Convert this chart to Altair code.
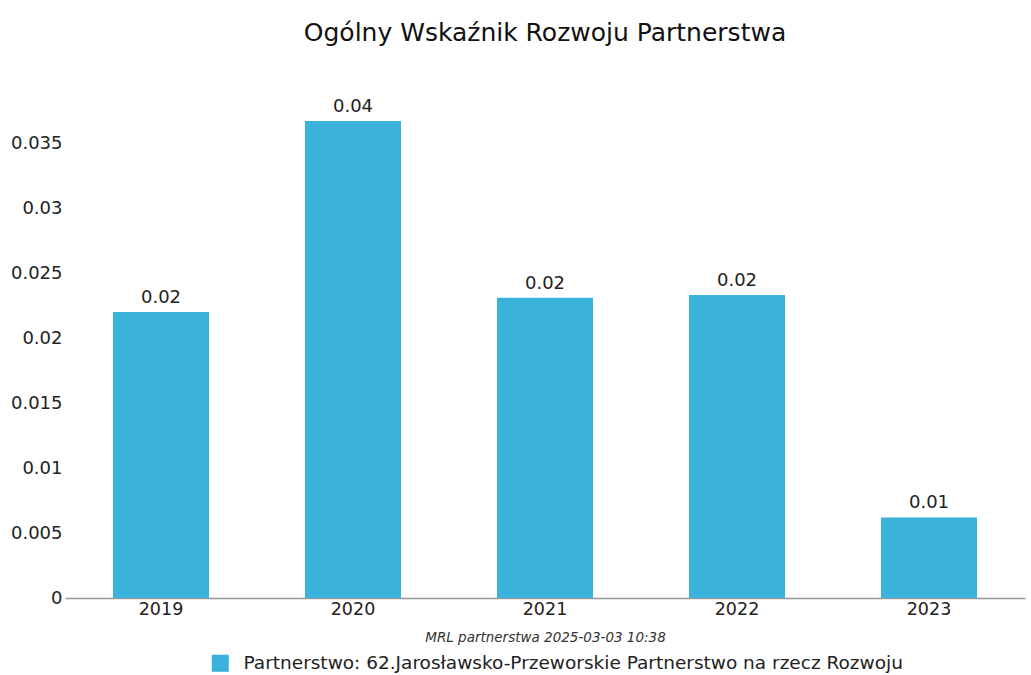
import altair as alt
import pandas as pd

years = ["2019", "2020", "2021", "2022", "2023"]
values = [0.0220, 0.0367, 0.0231, 0.0233, 0.0062]
series = "Partnerstwo: 62.Jarosławsko-Przeworskie Partnerstwo na rzecz Rozwoju"
y_ticks = [0, 0.005, 0.01, 0.015, 0.02, 0.025, 0.03, 0.035]

df = pd.DataFrame({"year": years, "value": values, "series": [series] * len(years)})

FONT = "DejaVu Sans"
BAR = "#3AB2DC"

base = alt.Chart(df).encode(
    x=alt.X(
        "year:N",
        scale=alt.Scale(paddingInner=0.5, paddingOuter=0.25),
        axis=alt.Axis(
            title="MRL partnerstwa 2025-03-03 10:38",
            titleFont=FONT, titleFontStyle="italic", titleFontWeight="normal",
            titleFontSize=13.5, titleColor="#333", titlePadding=13,
            labelFont=FONT, labelFontSize=17.5, labelColor="#222", labelAngle=0,
            labelPadding=2, ticks=False, domainColor="#999", domainWidth=1.5,
        ),
    ),
    y=alt.Y(
        "value:Q",
        scale=alt.Scale(domain=[0, 0.04], nice=False),
        axis=alt.Axis(
            title=None, values=y_ticks, format="~g", grid=False, domain=False,
            ticks=False, labelFont=FONT, labelFontSize=18, labelColor="#222",
            labelPadding=3,
        ),
    ),
)

bars = base.mark_bar(color=BAR).encode(
    color=alt.Color(
        "series:N",
        scale=alt.Scale(range=[BAR]),
        legend=alt.Legend(
            title=None, orient="none", legendX=146, legendY=576,
            symbolType="square", symbolSize=290, symbolStrokeWidth=0,
            labelOffset=14,
            labelFont=FONT, labelFontSize=18.5, labelColor="#222", labelLimit=900,
        ),
    )
)

labels = base.mark_text(dy=-14, font=FONT, fontSize=18, color="#222").encode(
    text=alt.Text("value:Q", format=".2f")
)

chart = (
    alt.layer(bars, labels)
    .properties(
        width=960,
        height=520,
        title=alt.TitleParams(
            "Ogólny Wskaźnik Rozwoju Partnerstwa",
            font=FONT, fontSize=25, fontWeight="normal", color="#111",
            anchor="middle", offset=32,
        ),
        autosize=alt.AutoSizeParams(type="none"),
        padding={"left": 65, "top": 78, "right": 6, "bottom": 77},
    )
    .configure(background="white")
    .configure_view(stroke="transparent", strokeWidth=0)
)

chart.save("out.html", embed_options={"renderer": "svg", "actions": False})
